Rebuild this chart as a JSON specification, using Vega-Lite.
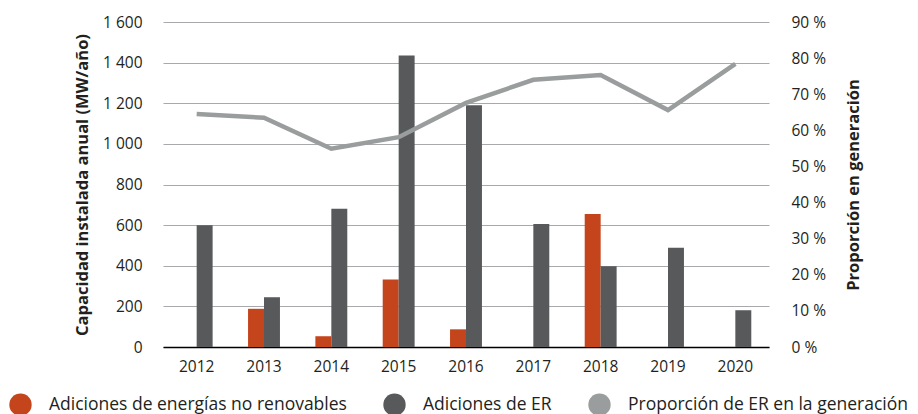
{
  "$schema": "https://vega.github.io/schema/vega-lite/v6.json",
  "width": 606,
  "height": 325,
  "autosize": {"type": "none"},
  "padding": {"left": 163, "top": 22, "right": 149, "bottom": 67},
  "config": {
    "font": "Open Sans",
    "view": {"stroke": null},
    "axis": {"labelColor": "#231f20", "titleColor": "#231f20", "labelFontSize": 15.5, "titleFontSize": 16.5, "titleFontWeight": "bold", "ticks": false},
    "legend": {"labelFontSize": 17.5, "labelColor": "#231f20", "labelLimit": 400, "labelOffset": 17, "symbolType": "circle", "symbolSize": 500}
  },
  "datasets": {
    "bars": [
      {"year": "2012", "series": "Adiciones de ER", "value": 600},
      {"year": "2013", "series": "Adiciones de energías no renovables", "value": 188},
      {"year": "2013", "series": "Adiciones de ER", "value": 245},
      {"year": "2014", "series": "Adiciones de energías no renovables", "value": 53},
      {"year": "2014", "series": "Adiciones de ER", "value": 681},
      {"year": "2015", "series": "Adiciones de energías no renovables", "value": 332},
      {"year": "2015", "series": "Adiciones de ER", "value": 1435},
      {"year": "2016", "series": "Adiciones de energías no renovables", "value": 87},
      {"year": "2016", "series": "Adiciones de ER", "value": 1190},
      {"year": "2017", "series": "Adiciones de ER", "value": 606},
      {"year": "2018", "series": "Adiciones de energías no renovables", "value": 655},
      {"year": "2018", "series": "Adiciones de ER", "value": 397},
      {"year": "2019", "series": "Adiciones de ER", "value": 489},
      {"year": "2020", "series": "Adiciones de ER", "value": 181}
    ],
    "share": [
      {"year": "2012", "series": "Proporción de ER en la generación", "share": 64.5},
      {"year": "2013", "series": "Proporción de ER en la generación", "share": 63.5},
      {"year": "2014", "series": "Proporción de ER en la generación", "share": 54.9},
      {"year": "2015", "series": "Proporción de ER en la generación", "share": 58.1},
      {"year": "2016", "series": "Proporción de ER en la generación", "share": 67.6},
      {"year": "2017", "series": "Proporción de ER en la generación", "share": 74.0},
      {"year": "2018", "series": "Proporción de ER en la generación", "share": 75.3},
      {"year": "2019", "series": "Proporción de ER en la generación", "share": 65.6},
      {"year": "2020", "series": "Proporción de ER en la generación", "share": 78.4}
    ]
  },
  "layer": [
    {
      "data": {"name": "bars"},
      "mark": {"type": "bar"},
      "encoding": {
        "x": {
          "field": "year", "type": "ordinal",
          "scale": {"paddingInner": 0.526, "paddingOuter": 0.263},
          "axis": {"title": null, "labelAngle": 0, "domain": true, "domainColor": "#000000", "domainWidth": 1.5, "labelPadding": 12, "grid": false}
        },
        "xOffset": {
          "field": "series", "type": "nominal",
          "scale": {"domain": ["Adiciones de energías no renovables", "Adiciones de ER"], "paddingInner": 0, "paddingOuter": 0}
        },
        "y": {
          "field": "value", "type": "quantitative",
          "scale": {"domain": [0, 1600], "nice": false},
          "axis": {
            "title": "Capacidad instalada anual (MW/año)",
            "values": [0, 200, 400, 600, 800, 1000, 1200, 1400, 1600],
            "labelExpr": "replace(format(datum.value, ','), ',', ' ')",
            "grid": true, "gridColor": "#a7a9ac", "gridWidth": 1.2,
            "domain": false, "labelPadding": 21, "titlePadding": 12
          }
        },
        "color": {
          "field": "series", "type": "nominal",
          "scale": {
            "domain": ["Adiciones de energías no renovables", "Adiciones de ER", "Proporción de ER en la generación"],
            "range": ["#c4441c", "#58595b", "#9a9d9d"]
          },
          "legend": {
            "title": null, "orient": "none", "legendX": -154, "legendY": 371,
            "direction": "horizontal", "columnPadding": 36,
            "encode": {"symbols": {"update": {"fill": {"scale": "color", "field": "value"}, "strokeWidth": {"value": 0}, "opacity": {"value": 1}}}}
          }
        }
      }
    },
    {
      "data": {"name": "share"},
      "mark": {"type": "line", "strokeWidth": 4.5, "strokeCap": "butt"},
      "encoding": {
        "x": {"field": "year", "type": "ordinal"},
        "y": {
          "field": "share", "type": "quantitative",
          "scale": {"domain": [0, 90], "nice": false},
          "axis": {
            "orient": "right", "title": "Proporción en generación", "titleAngle": 270,
            "values": [0, 10, 20, 30, 40, 50, 60, 70, 80, 90],
            "labelExpr": "datum.value + ' %'",
            "grid": false, "domain": false, "labelPadding": 22, "titlePadding": 36
          }
        },
        "color": {"field": "series", "type": "nominal"}
      }
    }
  ],
  "resolve": {"scale": {"y": "independent"}}
}
